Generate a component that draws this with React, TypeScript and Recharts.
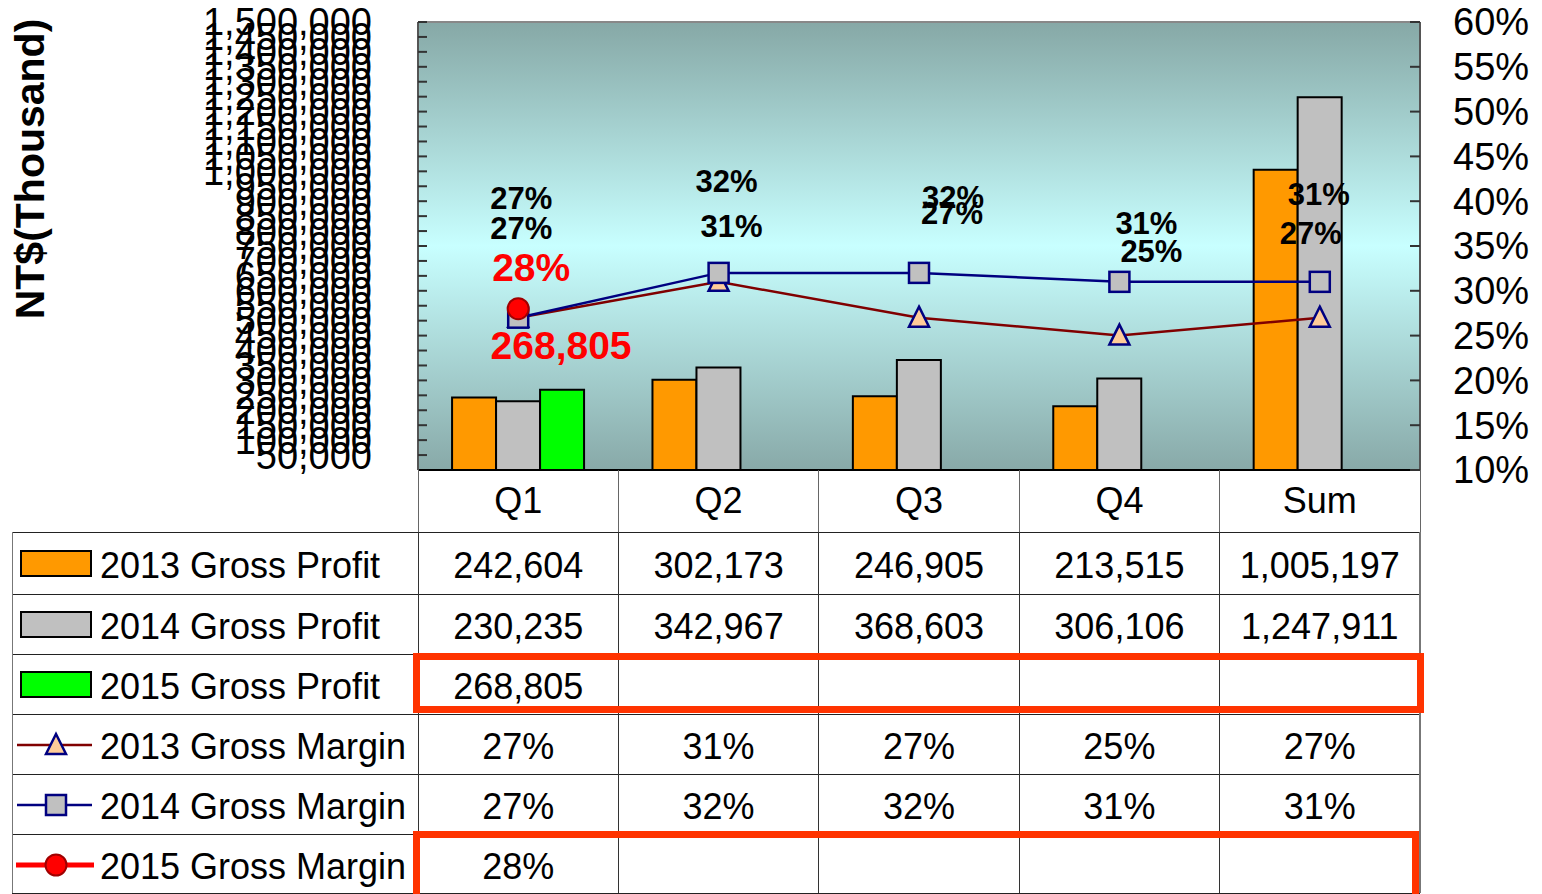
import React from 'react';
import { ComposedChart, Bar, Line, XAxis, YAxis, CartesianGrid, LabelList, ReferenceLine } from 'recharts';

// ---------- data ----------
const categories = ['Q1', 'Q2', 'Q3', 'Q4', 'Sum'];
const grossProfit2013 = [242604, 302173, 246905, 213515, 1005197];
const grossProfit2014 = [230235, 342967, 368603, 306106, 1247911];
const grossProfit2015: (number | null)[] = [268805, null, null, null, null];
const grossMargin2013 = [0.27, 0.31, 0.27, 0.25, 0.27];
const grossMargin2014 = [0.27, 0.32, 0.32, 0.31, 0.31];
const grossMargin2015: (number | null)[] = [0.28, null, null, null, null];

const leftTicks = [
  50000, 100000, 150000, 200000, 250000, 300000, 350000, 400000, 450000, 500000,
  550000, 600000, 650000, 700000, 750000, 800000, 850000, 900000, 950000, 1000000,
  1050000, 1100000, 1150000, 1200000, 1250000, 1300000, 1350000, 1400000, 1450000, 1500000,
];
const rightTicks = [0.1, 0.15, 0.2, 0.25, 0.3, 0.35, 0.4, 0.45, 0.5, 0.55, 0.6];

const seriesNames = [
  '2013 Gross Profit',
  '2014 Gross Profit',
  '2015 Gross Profit',
  '2013 Gross Margin',
  '2014 Gross Margin',
  '2015 Gross Margin',
];

// ---------- layout / style constants ----------
const FONT = '"Liberation Sans", Arial, Helvetica, sans-serif';
const ORANGE = '#FF9900';
const GRAY = '#C0C0C0';
const GREEN = '#00FF00';
const DARKRED = '#800000';
const NAVY = '#000080';
const PLOT_LEFT = 418;
const PLOT_RIGHT = 1420;
const PLOT_TOP = 22;
const PLOT_BOTTOM = 470;
const BAND = (PLOT_RIGHT - PLOT_LEFT) / categories.length;

// label nudges (pixels, relative to the mark)
const NUDGE_GM2013 = [[3, -89], [13, -55], [33, -104], [32, -84], [-9, -84]];
const NUDGE_GM2014 = [[3, -119], [8, -91], [34, -75], [27, -58], [-1, -87]];
const NUDGE_GM2015 = [[13, -41]];
const NUDGE_GP2015 = [[-1, -44]];

const data = categories.map((c, i) => ({
  cat: c,
  gp2013: grossProfit2013[i],
  gp2014: grossProfit2014[i],
  gp2015: grossProfit2015[i],
  gm2013: grossMargin2013[i],
  gm2014: grossMargin2014[i],
  gm2015: grossMargin2015[i],
}));

const fmtNum = (v: number | null) => (v == null ? '' : v.toLocaleString('en-US'));
const fmtPct = (v: number | null) => (v == null ? '' : `${Math.round(v * 100)}%`);

const pctLabel = (nudge: number[][], color: string, size: number) => (p: any) => {
  const { x, y, value, index } = p;
  if (value == null || !nudge[index]) return null;
  return (
    <text
      x={x + nudge[index][0]}
      y={y + nudge[index][1]}
      textAnchor="middle"
      dominantBaseline="central"
      fontSize={size}
      fontWeight="bold"
      fill={color}
      fontFamily={FONT}
    >
      {fmtPct(value)}
    </text>
  );
};

const barLabel = (nudge: number[][], color: string, size: number) => (p: any) => {
  const { x, y, width, value, index } = p;
  if (value == null || !nudge[index]) return null;
  return (
    <text
      x={x + width / 2 + nudge[index][0]}
      y={y + nudge[index][1]}
      textAnchor="middle"
      dominantBaseline="central"
      fontSize={size}
      fontWeight="bold"
      fill={color}
      fontFamily={FONT}
    >
      {fmtNum(value)}
    </text>
  );
};

const triangleDot = (p: any) => {
  const { cx, cy, index, value } = p;
  if (value == null || cx == null) return <g key={`t${index}`} />;
  return (
    <polygon
      key={`t${index}`}
      points={`${cx},${cy - 11} ${cx + 10},${cy + 9} ${cx - 10},${cy + 9}`}
      fill="#FFCC99"
      stroke={NAVY}
      strokeWidth={2.5}
    />
  );
};
const squareDot = (p: any) => {
  const { cx, cy, index, value } = p;
  if (value == null || cx == null) return <g key={`s${index}`} />;
  return <rect key={`s${index}`} x={cx - 10} y={cy - 10} width={20} height={20} fill={GRAY} stroke={NAVY} strokeWidth={2.5} />;
};
const circleDot = (p: any) => {
  const { cx, cy, index, value } = p;
  if (value == null || cx == null) return <g key={`c${index}`} />;
  return <circle key={`c${index}`} cx={cx} cy={cy} r={10.5} fill="#FF0000" stroke="#A00000" strokeWidth={2} />;
};

const axisTitle = (p: any) => {
  const vb = p.viewBox || { x: 0, y: PLOT_TOP };
  const tx = vb.x + 44;
  const ty = vb.y + 147;
  return (
    <text
      x={tx}
      y={ty}
      transform={`rotate(-90 ${tx} ${ty})`}
      textAnchor="middle"
      fontSize={41}
      fontWeight="bold"
      fill="#000"
      fontFamily={FONT}
    >
      NT$(Thousand)
    </text>
  );
};

// ---------- legend keys for the table ----------
const keyStyle: React.CSSProperties = { position: 'absolute', left: 0, top: 0, bottom: 0, margin: 'auto' };
const LegendKey = ({ row }: { row: number }) => {
  if (row < 3) {
    const fills = [ORANGE, GRAY, GREEN];
    return (
      <svg width={90} height={40} style={keyStyle}>
        <rect x={9} y={8} width={70} height={25} fill={fills[row]} stroke="#000" strokeWidth={2} />
      </svg>
    );
  }
  return (
    <svg width={90} height={40} style={keyStyle}>
      {row === 3 && (
        <g>
          <line x1={5} y1={21} x2={80} y2={21} stroke={DARKRED} strokeWidth={2.5} />
          <polygon points="44,10 54,30 34,30" fill="#FFCC99" stroke={NAVY} strokeWidth={2.5} />
        </g>
      )}
      {row === 4 && (
        <g>
          <line x1={5} y1={21} x2={80} y2={21} stroke={NAVY} strokeWidth={2.5} />
          <rect x={34} y={11} width={20} height={20} fill={GRAY} stroke={NAVY} strokeWidth={2.5} />
        </g>
      )}
      {row === 5 && (
        <g>
          <line x1={4} y1={21} x2={82} y2={21} stroke="#FF0000" strokeWidth={5} />
          <circle cx={44} cy={21} r={10.5} fill="#FF0000" stroke="#A00000" strokeWidth={2} />
        </g>
      )}
    </svg>
  );
};

const tableValues: string[][] = [
  grossProfit2013.map(fmtNum),
  grossProfit2014.map(fmtNum),
  grossProfit2015.map(fmtNum),
  grossMargin2013.map(fmtPct),
  grossMargin2014.map(fmtPct),
  grossMargin2015.map(fmtPct),
];

const ROW_TOPS = [532, 594, 654, 714, 774, 834, 893];
const TABLE_LEFT = 12;
const TEXT_DROP = 3;

const DataTable = () => {
  const els: React.ReactNode[] = [];
  // header row vertical separators
  for (let i = 0; i <= categories.length; i++) {
    els.push(
      <div
        key={`hv${i}`}
        style={{
          position: 'absolute',
          left: PLOT_LEFT + i * BAND - 0.5,
          top: PLOT_BOTTOM,
          width: 1,
          height: ROW_TOPS[0] - PLOT_BOTTOM,
          background: '#666',
        }}
      />
    );
  }
  // horizontal lines
  ROW_TOPS.forEach((y, i) => {
    els.push(
      <div
        key={`h${i}`}
        style={{ position: 'absolute', left: TABLE_LEFT, top: y - 0.5, width: PLOT_RIGHT - TABLE_LEFT, height: 1, background: '#222' }}
      />
    );
  });
  // vertical lines in body
  const vx = [TABLE_LEFT, ...categories.map((_, i) => PLOT_LEFT + i * BAND), PLOT_RIGHT];
  vx.forEach((x, i) => {
    els.push(
      <div
        key={`v${i}`}
        style={{
          position: 'absolute',
          left: x - (i === vx.length - 1 ? 1 : 0.5),
          top: ROW_TOPS[0],
          width: i === vx.length - 1 ? 2 : 1,
          height: ROW_TOPS[ROW_TOPS.length - 1] - ROW_TOPS[0],
          background: i === vx.length - 1 || i === 0 ? '#777' : '#333',
        }}
      />
    );
  });
  // rows
  seriesNames.forEach((name, r) => {
    const top = ROW_TOPS[r];
    const h = ROW_TOPS[r + 1] - top;
    els.push(
      <div key={`lab${r}`} style={{ position: 'absolute', left: TABLE_LEFT, top, width: PLOT_LEFT - TABLE_LEFT, height: h }}>
        <LegendKey row={r} />
        <div
          style={{
            position: 'absolute',
            left: 100 - TABLE_LEFT,
            top: TEXT_DROP,
            height: h,
            lineHeight: `${h}px`,
            fontSize: 36,
            whiteSpace: 'nowrap',
            color: '#000',
          }}
        >
          {name}
        </div>
      </div>
    );
    tableValues[r].forEach((v, c) => {
      els.push(
        <div
          key={`c${r}-${c}`}
          style={{
            position: 'absolute',
            left: PLOT_LEFT + c * BAND,
            top: top + TEXT_DROP,
            width: BAND,
            height: h,
            lineHeight: `${h}px`,
            textAlign: 'center',
            fontSize: 36,
            color: '#000',
            whiteSpace: 'nowrap',
          }}
        >
          {v}
        </div>
      );
    });
  });
  // red highlight boxes
  els.push(
    <div
      key="red1"
      style={{ position: 'absolute', left: 413, top: 653, width: 1011, height: 60, border: '7px solid #FF3300', boxSizing: 'border-box' }}
    />
  );
  els.push(
    <div
      key="red2"
      style={{ position: 'absolute', left: 413, top: 831, width: 1006, height: 70, border: '7px solid #FF3300', boxSizing: 'border-box' }}
    />
  );
  return <>{els}</>;
};

export default function App() {
  return (
    <div
      style={{
        position: 'absolute',
        left: 0,
        top: 0,
        width: 1542,
        height: 894,
        overflow: 'hidden',
        background: '#fff',
        fontFamily: FONT,
      }}
    >
      <ComposedChart
        width={1542}
        height={532}
        data={data}
        margin={{ top: PLOT_TOP, right: 0, bottom: 0, left: 0 }}
        barCategoryGap="17%"
        barGap={0}
        style={{ fontFamily: FONT }}
      >
        <defs>
          <linearGradient id="plotBg" x1="0" y1="0" x2="0" y2="1">
            <stop offset="0" stopColor="#86A8A6" />
            <stop offset="0.5" stopColor="#C8FFFF" />
            <stop offset="1" stopColor="#88A9A8" />
          </linearGradient>
        </defs>
        <CartesianGrid fill="url(#plotBg)" horizontal={false} vertical={false} />
        <XAxis
          dataKey="cat"
          height={62}
          interval={0}
          axisLine={{ stroke: '#000', strokeWidth: 2 }}
          tickLine={false}
          tickMargin={11}
          tick={{ fontSize: 36, fill: '#000', fontFamily: FONT }}
        />
        <YAxis
          yAxisId="left"
          width={PLOT_LEFT}
          domain={[0, 1500000]}
          ticks={leftTicks}
          interval={0}
          allowDataOverflow
          tickFormatter={(v: number) => v.toLocaleString('en-US')}
          tickSize={-9}
          tickMargin={55}
          tickLine={{ stroke: '#333', strokeWidth: 2 }}
          axisLine={{ stroke: '#555', strokeWidth: 2 }}
          tick={{ fontSize: 38, fill: '#000', fontFamily: FONT }}
          label={axisTitle}
        />
        <YAxis
          yAxisId="right"
          orientation="right"
          width={1542 - PLOT_RIGHT}
          domain={[0.1, 0.6]}
          ticks={rightTicks}
          interval={0}
          allowDataOverflow
          tickFormatter={(v: number) => `${Math.round(v * 100)}%`}
          tickSize={-10}
          tickMargin={43}
          tickLine={{ stroke: '#333', strokeWidth: 2 }}
          axisLine={{ stroke: '#555', strokeWidth: 2 }}
          tick={{ fontSize: 38, fill: '#000', fontFamily: FONT }}
        />
        <ReferenceLine yAxisId="left" y={1500000} stroke="#888" strokeWidth={2} />
        <Bar yAxisId="left" dataKey="gp2013" fill={ORANGE} stroke="#000" strokeWidth={2} isAnimationActive={false} />
        <Bar yAxisId="left" dataKey="gp2014" fill={GRAY} stroke="#000" strokeWidth={2} isAnimationActive={false} />
        <Bar yAxisId="left" dataKey="gp2015" fill={GREEN} stroke="#000" strokeWidth={2} isAnimationActive={false}>
          <LabelList dataKey="gp2015" content={barLabel(NUDGE_GP2015, '#FF0000', 39)} />
        </Bar>
        <Line
          yAxisId="right"
          dataKey="gm2013"
          stroke={DARKRED}
          strokeWidth={2.5}
          dot={triangleDot}
          activeDot={false}
          isAnimationActive={false}
        >
          <LabelList dataKey="gm2013" content={pctLabel(NUDGE_GM2013, '#000', 31)} />
        </Line>
        <Line
          yAxisId="right"
          dataKey="gm2014"
          stroke={NAVY}
          strokeWidth={2.5}
          dot={squareDot}
          activeDot={false}
          isAnimationActive={false}
        >
          <LabelList dataKey="gm2014" content={pctLabel(NUDGE_GM2014, '#000', 31)} />
        </Line>
        <Line
          yAxisId="right"
          dataKey="gm2015"
          stroke="#FF0000"
          strokeWidth={2.5}
          dot={circleDot}
          activeDot={false}
          isAnimationActive={false}
        >
          <LabelList dataKey="gm2015" content={pctLabel(NUDGE_GM2015, '#FF0000', 39)} />
        </Line>
      </ComposedChart>
      <DataTable />
    </div>
  );
}
